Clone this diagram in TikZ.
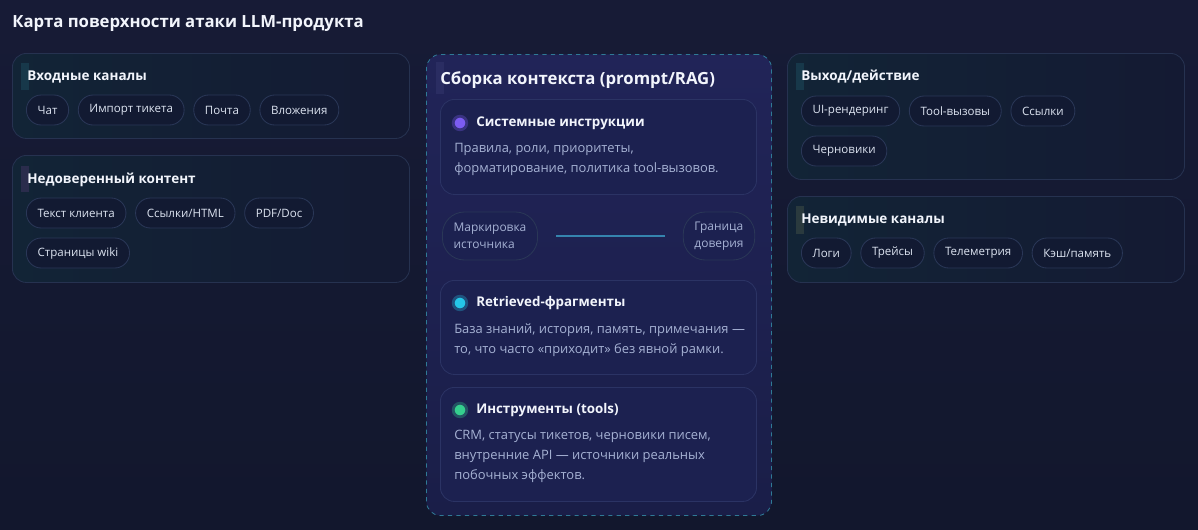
\documentclass[tikz,border=0pt]{standalone}
\usepackage{fontspec}
\setmainfont{Open Sans}
\usetikzlibrary{positioning}

\definecolor{bgtop}{HTML}{171B36}
\definecolor{bgbot}{HTML}{12172D}
\definecolor{panelL}{HTML}{122436}
\definecolor{panelR}{HTML}{141A33}
\definecolor{panelline}{HTML}{263250}
\definecolor{pillfill}{HTML}{121A32}
\definecolor{pillline}{HTML}{2A3757}
\definecolor{pilltext}{HTML}{DCE3F0}
\definecolor{headtext}{HTML}{F2F5FC}
\definecolor{ctxtop}{HTML}{212458}
\definecolor{ctxbot}{HTML}{1A1E48}
\definecolor{ctxline}{HTML}{2F7A96}
\definecolor{cardfill}{HTML}{1C2150}
\definecolor{cardline}{HTML}{2B3364}
\definecolor{bodytext}{HTML}{A6B2D4}
\definecolor{linkteal}{HTML}{3584AE}
\definecolor{dotsys}{HTML}{7C5CF2}
\definecolor{dotret}{HTML}{25C6E8}
\definecolor{dottool}{HTML}{35CF8E}
\definecolor{accteal}{HTML}{17384A}
\definecolor{accviol}{HTML}{2A2C4C}
\definecolor{accolive}{HTML}{2A3A3E}
\definecolor{accctx}{HTML}{2A2D62}

\begin{document}
\begin{tikzpicture}[
  x=0.025cm, y=-0.025cm,
  panel/.style={draw=panelline, line width=0.6pt, rounded corners=0.35cm, left color=panelL, right color=panelR, inner sep=0pt, anchor=north west},
  pill/.style={draw=pillline, line width=0.6pt, fill=pillfill, rounded corners=0.37cm, minimum height=0.75cm, inner xsep=0.28cm, text=pilltext, font=\fontsize{8.2}{10}\selectfont},
  twopill/.style={draw=pillline, line width=0.6pt, fill=cardfill, rounded corners=0.55cm, minimum height=1.2cm, align=left, inner xsep=0.28cm, text=bodytext, font=\fontsize{8.5}{12}\selectfont},
  head/.style={text=headtext, font=\bfseries\fontsize{9.6}{11}\selectfont, inner sep=0pt, anchor=west},
  card/.style={draw=cardline, line width=0.6pt, rounded corners=0.35cm, fill=cardfill, inner sep=0pt, anchor=north west, minimum width=7.9cm},
  cardhead/.style={text=headtext, font=\bfseries\fontsize{9.5}{11}\selectfont, inner sep=0pt, anchor=west},
  body/.style={text=bodytext, align=left, font=\fontsize{9.2}{14.2}\selectfont, inner sep=0pt, anchor=north west},
  dot/.style={circle, inner sep=0pt, minimum size=0.34cm, draw=#1!30!cardfill, line width=2pt, fill=#1},
  link/.style={linkteal, line width=0.8pt, shorten <=0.45cm, shorten >=0.45cm}
]

% background and frame of the page
\path[top color=bgtop, bottom color=bgbot] (0,0) rectangle (1198,529);
\useasboundingbox (0,0) rectangle (1198,529);

\node[anchor=west, inner sep=0pt, text=headtext, font=\bfseries\fontsize{11.9}{13}\selectfont] (title) at (12,24)
  {Карта поверхности атаки LLM-продукта};

% --- Left column -------------------------------------------------------------
\node[panel, minimum width=9.925cm, minimum height=2.125cm] (inbox) at (12,53) {};
\fill[accteal] (21,63) rectangle (29,90);
\node[head] (inhead) at (27,77) {Входные каналы};
\node[pill, anchor=west] (chat) at (26,110) {Чат};
\node[pill, right=0.22cm of chat] (ticket) {Импорт тикета};
\node[pill, right=0.22cm of ticket] (mail) {Почта};
\node[pill, right=0.22cm of mail] (attach) {Вложения};

\node[panel, minimum width=9.925cm, minimum height=3.175cm] (untrust) at (12,155) {};
\fill[accviol] (21,166) rectangle (29,192);
\node[head] (unhead) at (27,180) {Недоверенный контент};
\node[pill, anchor=west] (client) at (26,213) {Текст клиента};
\node[pill, right=0.22cm of client] (html) {Ссылки/HTML};
\node[pill, right=0.22cm of html] (pdf) {PDF/Doc};
\node[pill, anchor=west] (wiki) at (26,253) {Страницы wiki};

% --- Center: context assembly ------------------------------------------------
\node[draw=ctxline, dashed, line width=0.6pt, rounded corners=0.35cm, top color=ctxtop, bottom color=ctxbot,
  inner sep=0pt, anchor=north west, minimum width=8.625cm, minimum height=11.525cm] (ctx) at (426,54) {};
\fill[accctx] (436,62) rectangle (444,94);
\node[anchor=west, inner sep=0pt, text=headtext, font=\bfseries\fontsize{11.9}{13}\selectfont] (ctxhead) at (440,80)
  {Сборка контекста (prompt/RAG)};

\node[card, minimum height=2.375cm] (sys) at (440,99) {};
\node[dot=dotsys] (sysdot) at (460,123) {};
\node[cardhead] (syshead) at (476,123) {Системные инструкции};
\node[body] (sysbody) at (454,143) {Правила, роли, приоритеты,\\форматирование, политика tool-вызовов.};

\node[twopill] (mark) at (490,236) {Маркировка\\источника};
\node[twopill] (trust) at (719,236) {Граница\\доверия};
\draw[link] (mark) -- (trust);

\node[card, minimum height=2.35cm] (ret) at (440,280) {};
\node[dot=dotret] (retdot) at (460,303) {};
\node[cardhead] (rethead) at (476,303) {Retrieved-фрагменты};
\node[body] (retbody) at (454,323) {База знаний, история, память, примечания —\\то, что часто «приходит» без явной рамки.};

\node[card, minimum height=2.85cm] (tools) at (440,387) {};
\node[dot=dottool] (tooldot) at (460,410) {};
\node[cardhead] (toolhead) at (476,410) {Инструменты (tools)};
\node[body] (toolbody) at (454,430) {CRM, статусы тикетов, черновики писем,\\внутренние API — источники реальных\\побочных эффектов.};

% --- Right column ------------------------------------------------------------
\node[panel, minimum width=9.925cm, minimum height=3.15cm] (outbox) at (787,53) {};
\fill[accteal] (796,63) rectangle (804,90);
\node[head] (outhead) at (801,77) {Выход/действие};
\node[pill, anchor=west] (ui) at (801,111) {UI-рендеринг};
\node[pill, right=0.22cm of ui] (toolcall) {Tool-вызовы};
\node[pill, right=0.22cm of toolcall] (links) {Ссылки};
\node[pill, anchor=west] (drafts) at (801,151) {Черновики};

\node[panel, minimum width=9.925cm, minimum height=2.15cm] (hidden) at (787,196) {};
\fill[accolive] (796,206) rectangle (804,234);
\node[head] (hidhead) at (801,220) {Невидимые каналы};
\node[pill, anchor=west] (logs) at (801,253) {Логи};
\node[pill, right=0.22cm of logs] (traces) {Трейсы};
\node[pill, right=0.22cm of traces] (telem) {Телеметрия};
\node[pill, right=0.22cm of telem] (cache) {Кэш/память};

\end{tikzpicture}
\end{document}
